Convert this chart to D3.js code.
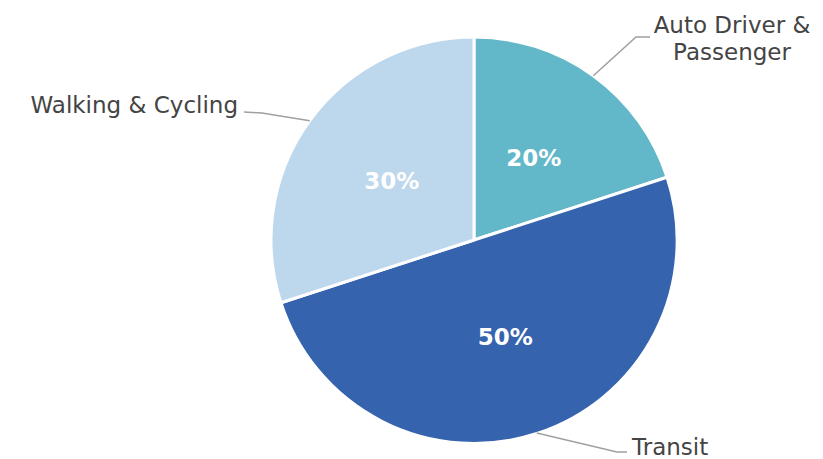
<!DOCTYPE html>
<html><head><meta charset="utf-8">
<script src="https://cdn.jsdelivr.net/npm/d3@7"></script>
<style>body{margin:0;background:#fff}svg{display:block}</style>
</head><body>
<svg id="c" width="823" height="459"></svg>
<script>
const categories = ["Auto Driver & Passenger", "Transit", "Walking & Cycling"];
const values = [20, 50, 30];
const pctLabels = ["20%", "50%", "30%"];
const colors = ["#62b8c9", "#3563ae", "#bdd7ed"];

const svg = d3.select("#c");
const cx = 474, cy = 240, R = 203;
const g = svg.append("g").attr("transform", `translate(${cx},${cy})`);
const pie = d3.pie().sort(null).value(d => d)(values);
const arc = d3.arc().innerRadius(0).outerRadius(R);

g.selectAll("path.s").data(pie).join("path")
  .attr("d", arc).attr("fill", (d, i) => colors[i])
  .attr("stroke", "#fff").attr("stroke-width", 3).attr("stroke-linejoin", "round");

const labelArc = d3.arc().innerRadius(R / 2).outerRadius(R / 2);
g.selectAll("text.p").data(pie).join("text")
  .attr("transform", d => `translate(${labelArc.centroid(d)})`)
  .attr("text-anchor", "middle").attr("dy", "0.36em")
  .attr("font-family", "DejaVu Sans").attr("font-weight", "bold")
  .attr("font-size", 23).attr("fill", "#fff")
  .text((d, i) => pctLabels[i]);

// leader layout (elbow and label anchor relative to centre)
const layout = [
  {elbow: [162, -203], end: [176, -203], anchor: "middle", tx: 258, lines: ["Auto Driver &", "Passenger"], ty: -202},
  {elbow: [143, 212], end: [153, 212], anchor: "start", tx: 158, lines: ["Transit"], ty: 207},
  {elbow: [-212, -127], end: [-230, -128], anchor: "end", tx: -236, lines: ["Walking & Cycling"], ty: -135}
];
pie.forEach((d, i) => {
  const a = (d.startAngle + d.endAngle) / 2;
  const p0 = [Math.sin(a) * R, -Math.cos(a) * R];
  const L = layout[i];
  g.append("polyline")
    .attr("points", [p0, L.elbow, L.end].map(p => p.join(",")).join(" "))
    .attr("fill", "none").attr("stroke", "#a0a0a0").attr("stroke-width", 1.5);
  const t = g.append("text")
    .attr("text-anchor", L.anchor)
    .attr("font-family", "DejaVu Sans").attr("font-size", 23).attr("fill", "#444");
  const n = L.lines.length;
  L.lines.forEach((ln, j) => {
    t.append("tspan").attr("x", L.tx)
      .attr("y", L.ty + (j - (n - 1) / 2) * 27)
      .attr("dy", "0.36em").text(ln);
  });
});
</script>
</body></html>
